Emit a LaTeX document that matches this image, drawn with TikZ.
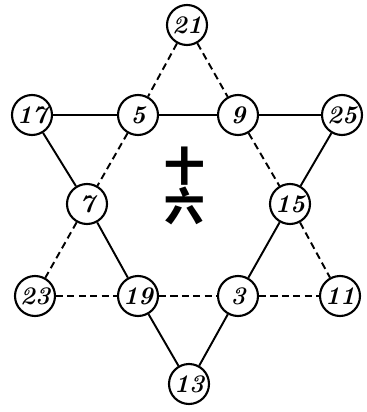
\documentclass[tikz,border=0pt]{standalone}
\usepackage{fontspec}
\newfontfamily\cjk{Noto Sans CJK SC}
\usetikzlibrary{positioning}

\begin{document}
\begin{tikzpicture}[
    x=0.02cm, y=-0.02cm,
    num style/.style={circle, draw, line width=1.2pt, minimum size=0.8cm, inner sep=0pt, font=\Large\bfseries\itshape},
    solid edge/.style={draw, line width=1.1pt},
    dash edge/.style={draw, line width=1.1pt, dash pattern=on 4pt off 2.5pt}
]

% FIXED BOUNDING BOX
\path[use as bounding box] (0,0) rectangle (366,412);

\node[num style] (n21) at (187, 25) {21};
\node[num style] (n17) at (32, 115) {17};
\node[num style] (n5)  at (138, 115) {5};
\node[num style] (n9)  at (238, 115) {9};
\node[num style] (n25) at (342, 115) {25};
\node[num style] (n7)  at (87, 204) {7};
\node[num style] (n15) at (290, 204) {15};
\node[num style] (n23) at (35, 296) {23};
\node[num style] (n19) at (138, 296) {19};
\node[num style] (n3)  at (238, 296) {3};
\node[num style] (n11) at (340, 296) {11};
\node[num style] (n13) at (189, 384) {13};

\node[font=\cjk\bfseries\fontsize{23}{19}\selectfont, align=center, inner sep=0pt] (mid) at (185, 186) {十\\六};

% solid triangle
\path[solid edge] (n17) -- (n5);
\path[solid edge] (n5) -- (n9);
\path[solid edge] (n9) -- (n25);
\path[solid edge] (n17) -- (n7);
\path[solid edge] (n7) -- (n19);
\path[solid edge] (n19) -- (n13);
\path[solid edge] (n13) -- (n3);
\path[solid edge] (n3) -- (n15);
\path[solid edge] (n15) -- (n25);

% dashed triangle
\path[dash edge] (n21) -- (n5);
\path[dash edge] (n21) -- (n9);
\path[dash edge] (n5) -- (n7);
\path[dash edge] (n9) -- (n15);
\path[dash edge] (n7) -- (n23);
\path[dash edge] (n15) -- (n11);
\path[dash edge] (n23) -- (n19);
\path[dash edge] (n19) -- (n3);
\path[dash edge] (n3) -- (n11);

\end{tikzpicture}
\end{document}
